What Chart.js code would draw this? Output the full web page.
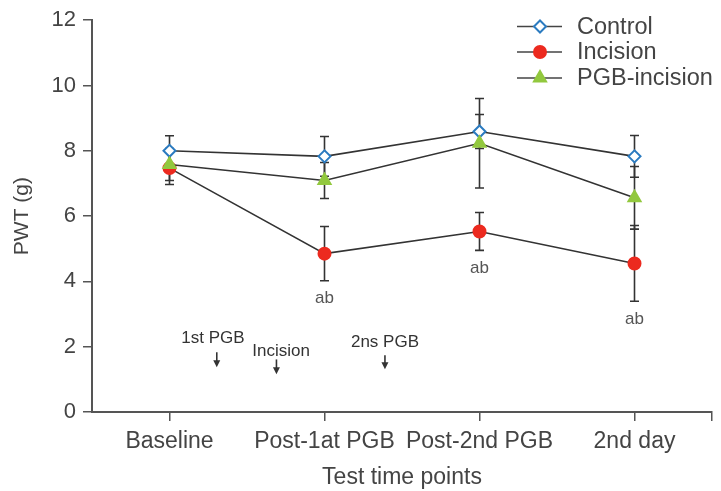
<!DOCTYPE html>
<html>
<head>
<meta charset="utf-8">
<script src="https://cdn.jsdelivr.net/npm/chart.js@4.4.1/dist/chart.umd.min.js"></script>
<style>
  html, body { margin: 0; padding: 0; background: #fff; }
  #wrap { width: 721px; height: 491px; }
</style>
</head>
<body>
<div id="wrap"><canvas id="chart"></canvas></div>
<script>
// test time points (x = 0..3)
const timePoints = ["Baseline", "Post-1at PGB", "Post-2nd PGB", "2nd day"];

// PWT (g), mean and error
const controlMean = [8.0, 7.83, 8.59, 7.83];
const controlErr = [0.46, 0.61, 0.52, 0.64];
const incisionMean = [7.47, 4.85, 5.53, 4.55];
const incisionErr = [0.5, 0.83, 0.58, 1.16];
const pgbMean = [7.58, 7.09, 8.23, 6.56];
const pgbErr = [0.49, 0.55, 1.37, 0.96];

// significance marks under the incision group
const incisionSig = ["", "ab", "ab", "ab"];

// procedure markers, in axis units
const eventLabels = ["1st PGB", "Incision", "2ns PGB"];
const eventX = [0.28, 0.72, 1.39];
const eventY = [2.25, 1.86, 2.12];
const arrowX = [0.305, 0.69, 1.39];
const arrowTop = [1.83, 1.61, 1.74];
const arrowBottom = [1.37, 1.16, 1.31];

const yTicks = [0, 2, 4, 6, 8, 10, 12];

const FONT = "Arial, 'Liberation Sans', Helvetica, sans-serif";
const TEXT = "#444";
const AXIS = "#555";

function pts(vals) {
  return vals.map((v, i) => ({ x: i, y: v }));
}

const series = [
  { label: "Control", mean: controlMean, err: controlErr, color: "#2b7bc0", style: "rectRot", radius: 6, fill: "#fff", order: 2 },
  { label: "Incision", mean: incisionMean, err: incisionErr, color: "#ec2a1f", style: "circle", radius: 6, fill: "#ec2a1f", order: 3 },
  { label: "PGB-incision", mean: pgbMean, err: pgbErr, color: "#92c83e", style: "triangle", radius: 7, fill: "#92c83e", order: 1 },
];

const errorBars = {
  id: "errorBars",
  beforeDatasetsDraw(chart) {
    const { ctx, scales: { x, y } } = chart;
    ctx.save();
    ctx.strokeStyle = "#333";
    ctx.lineWidth = 1.6;
    series.forEach((s) => {
      s.mean.forEach((m, i) => {
        const px = x.getPixelForValue(i);
        const top = y.getPixelForValue(m + s.err[i]);
        const bot = y.getPixelForValue(m - s.err[i]);
        ctx.beginPath();
        ctx.moveTo(px, top); ctx.lineTo(px, bot);
        ctx.moveTo(px - 4.5, top); ctx.lineTo(px + 4.5, top);
        ctx.moveTo(px - 4.5, bot); ctx.lineTo(px + 4.5, bot);
        ctx.stroke();
      });
    });
    ctx.restore();
  },
};

const extras = {
  id: "extras",
  afterDraw(chart) {
    const { ctx, scales: { x, y } } = chart;
    ctx.save();
    ctx.fillStyle = "#555";
    ctx.textAlign = "center";
    ctx.textBaseline = "middle";
    ctx.font = "17px " + FONT;

    // "ab" marks below the incision error bars
    incisionSig.forEach((t, i) => {
      if (!t) return;
      const bot = y.getPixelForValue(incisionMean[i] - incisionErr[i]);
      ctx.fillText(t, x.getPixelForValue(i), bot + 18);
    });

    // procedure labels with arrows
    ctx.fillStyle = "#333";
    ctx.strokeStyle = "#333";
    ctx.lineWidth = 1.6;
    eventLabels.forEach((t, i) => {
      ctx.fillText(t, x.getPixelForValue(eventX[i]), y.getPixelForValue(eventY[i]));
      const ax = x.getPixelForValue(arrowX[i]);
      const t0 = y.getPixelForValue(arrowTop[i]);
      const b0 = y.getPixelForValue(arrowBottom[i]);
      ctx.beginPath();
      ctx.moveTo(ax, t0); ctx.lineTo(ax, b0 - 4);
      ctx.stroke();
      ctx.beginPath();
      ctx.moveTo(ax - 3.5, b0 - 7); ctx.lineTo(ax + 3.5, b0 - 7); ctx.lineTo(ax, b0);
      ctx.closePath();
      ctx.fill();
    });

    // legend: line + marker + label
    ctx.font = "23.5px " + FONT;
    ctx.textAlign = "left";
    const rowY = [26.5, 52, 78];
    series.forEach((s, i) => {
      const cy = rowY[i];
      ctx.strokeStyle = "#444";
      ctx.lineWidth = 1.6;
      ctx.beginPath();
      ctx.moveTo(517, cy); ctx.lineTo(562, cy);
      ctx.stroke();
      ctx.fillStyle = s.fill;
      ctx.strokeStyle = s.color;
      ctx.lineWidth = 2;
      Chart.helpers.drawPoint(ctx, { pointStyle: s.style, radius: s.radius, rotation: 0, borderWidth: 2 }, 540, cy);
      ctx.fillStyle = TEXT;
      ctx.fillText(s.label, 577, cy + 1);
    });
    ctx.restore();
  },
};

new Chart(document.getElementById("chart"), {
  type: "line",
  data: {
    datasets: series.map((s) => ({
      label: s.label,
      data: pts(s.mean),
      order: s.order,
      borderColor: "#333",
      borderWidth: 1.6,
      pointStyle: s.style,
      pointRadius: s.radius,
      pointHoverRadius: s.radius,
      pointBackgroundColor: s.fill,
      pointBorderColor: s.color,
      pointBorderWidth: 2,
      tension: 0,
    })),
  },
  options: {
    responsive: true,
    maintainAspectRatio: false,
    animation: false,
    events: [],
    layout: { padding: { top: 18, right: 9, left: 0, bottom: 0 } },
    plugins: {
      legend: { display: false },
      tooltip: { enabled: false },
    },
    scales: {
      x: {
        type: "linear",
        min: -0.5,
        max: 3.5,
        afterBuildTicks: (scale) => {
          scale.ticks = [0, 1, 2, 3, 3.5].map((v) => ({ value: v }));
        },
        afterFit: (scale) => { scale.height = 79; },
        ticks: {
          autoSkip: false,
          maxRotation: 0,
          padding: 7,
          color: TEXT,
          font: { family: FONT, size: 23 },
          callback: (v) => (Number.isInteger(v) ? timePoints[v] : ""),
        },
        grid: { drawOnChartArea: false, tickLength: 9, color: AXIS, lineWidth: 1.5 },
        border: { color: AXIS, width: 2 },
        title: {
          display: true,
          text: "Test time points",
          color: TEXT,
          font: { family: FONT, size: 23 },
          padding: { top: 0, bottom: 0 },
        },
      },
      y: {
        min: 0,
        max: 12,
        afterBuildTicks: (scale) => {
          scale.ticks = yTicks.map((v) => ({ value: v }));
        },
        afterFit: (scale) => { scale.width = 92; },
        ticks: {
          padding: 7,
          color: TEXT,
          font: { family: FONT, size: 22 },
        },
        grid: { drawOnChartArea: false, tickLength: 9, color: AXIS, lineWidth: 1.5 },
        border: { color: AXIS, width: 2 },
        title: {
          display: true,
          text: "PWT (g)",
          color: TEXT,
          font: { family: FONT, size: 21 },
          padding: { top: 10, bottom: 0 },
        },
      },
    },
  },
  plugins: [errorBars, extras],
});
</script>
</body>
</html>
